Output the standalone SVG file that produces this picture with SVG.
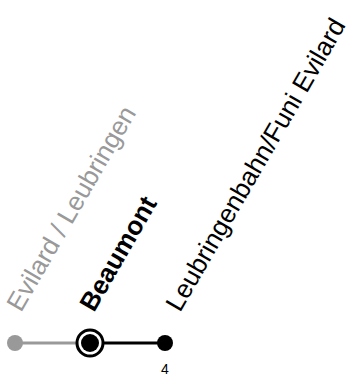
<svg xmlns="http://www.w3.org/2000/svg" width="348" height="376" viewBox="0 0 348 376">
<style>
.lbl{font-family:"Liberation Sans",Arial,sans-serif;font-size:26px}
.gray{fill:#999999}
.blk{fill:#000000}
</style>
<rect width="348" height="376" fill="#ffffff"/>
<g id="connectors">
<line x1="15" y1="343" x2="90" y2="343" stroke="#999999" stroke-width="3"/>
<line x1="90" y1="343" x2="165" y2="343" stroke="#000000" stroke-width="3"/>
</g>
<g id="evilard">
<circle cx="15" cy="343" r="8" class="gray"/>
<text class="lbl gray" x="21" y="313" transform="rotate(-60 21 313)">Evilard / Leubringen</text>
</g>
<g id="beaumont">
<circle cx="90" cy="343" r="13" fill="#ffffff" stroke="#000000" stroke-width="3"/>
<circle cx="90" cy="343" r="9" class="blk"/>
<text class="lbl blk" x="94" y="313" font-weight="bold" transform="rotate(-60 94 313)">Beaumont</text>
</g>
<g id="leubringenbahn">
<circle cx="165" cy="343" r="8" class="blk"/>
<text class="lbl blk" x="180" y="313" transform="rotate(-60 180 313)">Leubringenbahn/Funi Evilard</text>
<text x="165" y="374" text-anchor="middle" font-family="Liberation Sans,Arial,sans-serif" font-size="14" class="blk">4</text>
</g>
</svg>
